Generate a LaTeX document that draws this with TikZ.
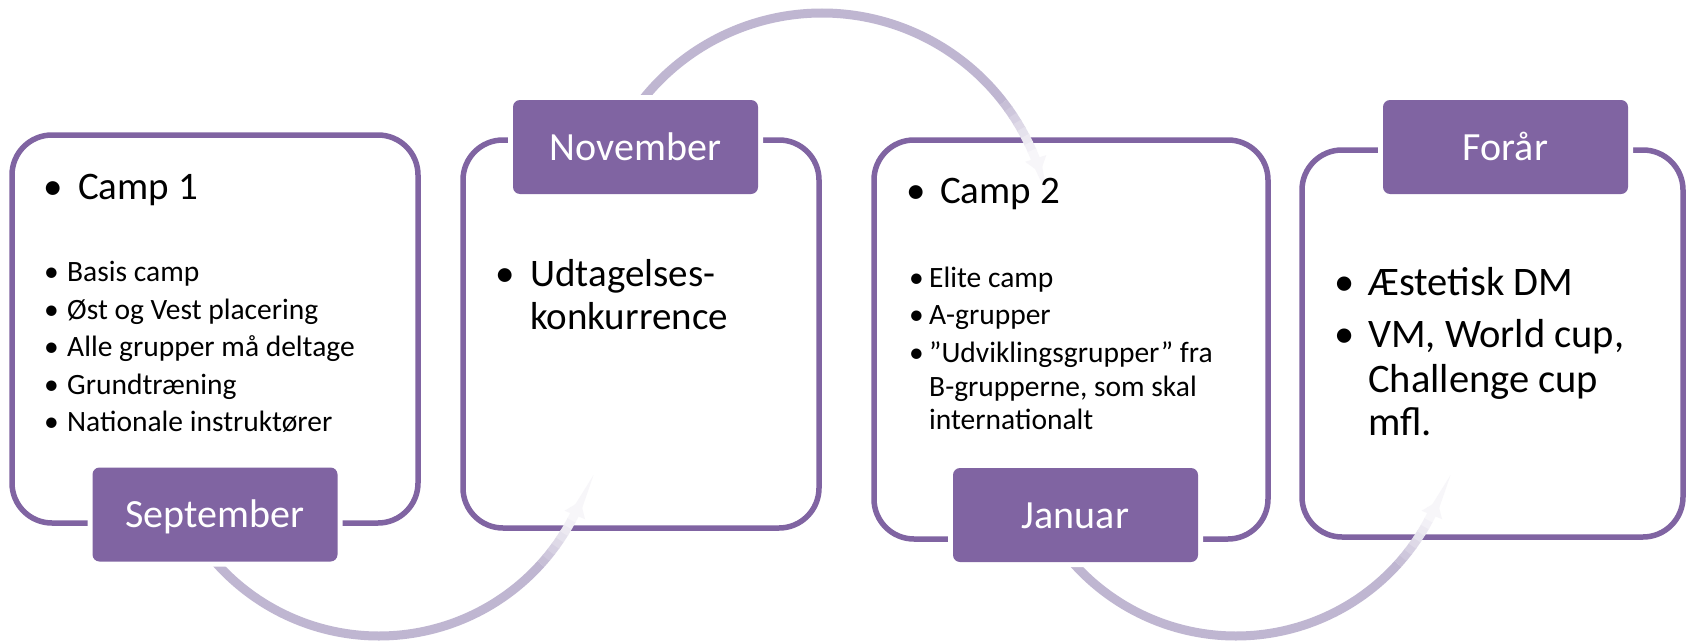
\documentclass[tikz,border=0pt]{standalone}
\usepackage{fontspec}
\setmainfont{Carlito}
\usetikzlibrary{arrows.meta}
\definecolor{lilla}{RGB}{128,100,162}
\definecolor{buefarve}{RGB}{191,182,209}

\begin{document}
\begin{tikzpicture}[x=1pt,y=-1pt]
\tikzstyle{kasse}=[rectangle, draw=lilla, line width=5.5pt, rounded corners=40pt, inner sep=0pt]
\tikzstyle{fane}=[rectangle, fill=lilla, rounded corners=7pt, minimum width=245pt, minimum height=94pt, inner sep=0pt, text=white, font=\fontsize{40}{48}\selectfont, text height=26pt, text depth=0pt, preaction={draw=white, line width=10pt}]
\tikzstyle{stor}=[anchor=base west, inner sep=0pt, font=\fontsize{39}{47}\selectfont]
\tikzstyle{lille}=[anchor=base west, inner sep=0pt, font=\fontsize{29.5}{35}\selectfont]
\tikzstyle{pil}=[line width=9pt]
\useasboundingbox (0,0) rectangle (1687,642);
\fill[white] (0,0) rectangle (1687,642);
  \node[kasse, minimum width=406pt, minimum height=388pt] (k1) at (215,329) {};
  \node[kasse, minimum width=356pt, minimum height=388pt] (k2) at (641,334) {};
  \node[kasse, minimum width=394pt, minimum height=399pt] (k3) at (1071,339.5) {};
  \node[kasse, minimum width=381pt, minimum height=387pt] (k4) at (1492.5,343.5) {};
\coordinate (m1) at (379,418);
\coordinate (m2) at (822,242);
\coordinate (m3) at (1236,418);
  \draw[pil, buefarve] (m1) ++(150:218) arc[start angle=150, end angle=42, radius=218];
  \draw[pil, buefarve] (m3) ++(150:218) arc[start angle=150, end angle=42, radius=218];
  \draw[pil, buefarve] (m2) ++(-150:229) arc[start angle=-150, end angle=-37.6, radius=229];
\foreach \a/\p in {42/88, 40/76, 38/64, 36/52, 34/40, 32/30, 30/20}{
  \draw[pil, buefarve!\p!white] (m1) ++(\a:218) arc[start angle=\a, end angle=\a-2.3, radius=218];
  \draw[pil, buefarve!\p!white] (m3) ++(\a:218) arc[start angle=\a, end angle=\a-2.3, radius=218];
  \draw[pil, buefarve!\p!white] (m2) ++(-\a+4.4:229) arc[start angle=-\a+4.4, end angle=-\a+6.7, radius=229];
}
  \draw[pil, buefarve!12!white, -{Triangle[width=21pt,length=15pt]}] (m1) ++(28:218) arc[start angle=28, end angle=22.4, radius=218];
  \draw[pil, buefarve!12!white, -{Triangle[width=21pt,length=15pt]}] (m3) ++(28:218) arc[start angle=28, end angle=22.4, radius=218];
  \draw[pil, buefarve!12!white, -{Triangle[width=21pt,length=15pt]}] (m2) ++(-23.6:229) arc[start angle=-23.6, end angle=-17.6, radius=229];
  \node[fane] (sep) at (215,514.5) {September};
  \node[fane] (nov) at (635.5,147) {November};
  \node[fane] (jan) at (1075.5,515) {Januar};
  \node[fane] (for) at (1505.5,147) {Forår};
  \node[stor] (c1) at (43,199) {\makebox[35pt][l]{\textbullet}Camp 1};
\foreach \txt [count=\i] in {Basis camp, Øst og Vest placering, Alle grupper må deltage, Grundtræning, Nationale instruktører}
  \node[lille] (p1-\i) at (44,244.2+37.5*\i) {\makebox[23pt][l]{\textbullet}\txt};
  \node[stor] (u1) at (495,286.5) {\makebox[35pt][l]{\textbullet}Udtagelses-};
  \node[stor] (u2) at (530,329.5) {konkurrence};
  \node[stor] (c2) at (906,203) {\makebox[34pt][l]{\textbullet}Camp 2};
  \node[lille] (p3-1) at (909,287) {\makebox[20pt][l]{\textbullet}Elite camp};
  \node[lille] (p3-2) at (909,324) {\makebox[20pt][l]{\textbullet}A-grupper};
  \node[lille] (p3-3) at (909,362) {\makebox[20pt][l]{\textbullet}”Udviklingsgrupper” fra};
  \node[lille] (p3-4) at (929,396) {B-grupperne, som skal};
  \node[lille] (p3-5) at (929,429) {internationalt};
  \node[stor, font=\fontsize{40.5}{48}\selectfont] (f1) at (1334,295.5) {\makebox[34pt][l]{\textbullet}Æstetisk DM};
  \node[stor, font=\fontsize{40.5}{48}\selectfont] (f2) at (1334,347) {\makebox[34pt][l]{\textbullet}VM, World cup,};
  \node[stor, font=\fontsize{40.5}{48}\selectfont] (f3) at (1368,392) {Challenge cup};
  \node[stor, font=\fontsize{40.5}{48}\selectfont] (f4) at (1368,435) {mfl.};
\end{tikzpicture}
\end{document}
